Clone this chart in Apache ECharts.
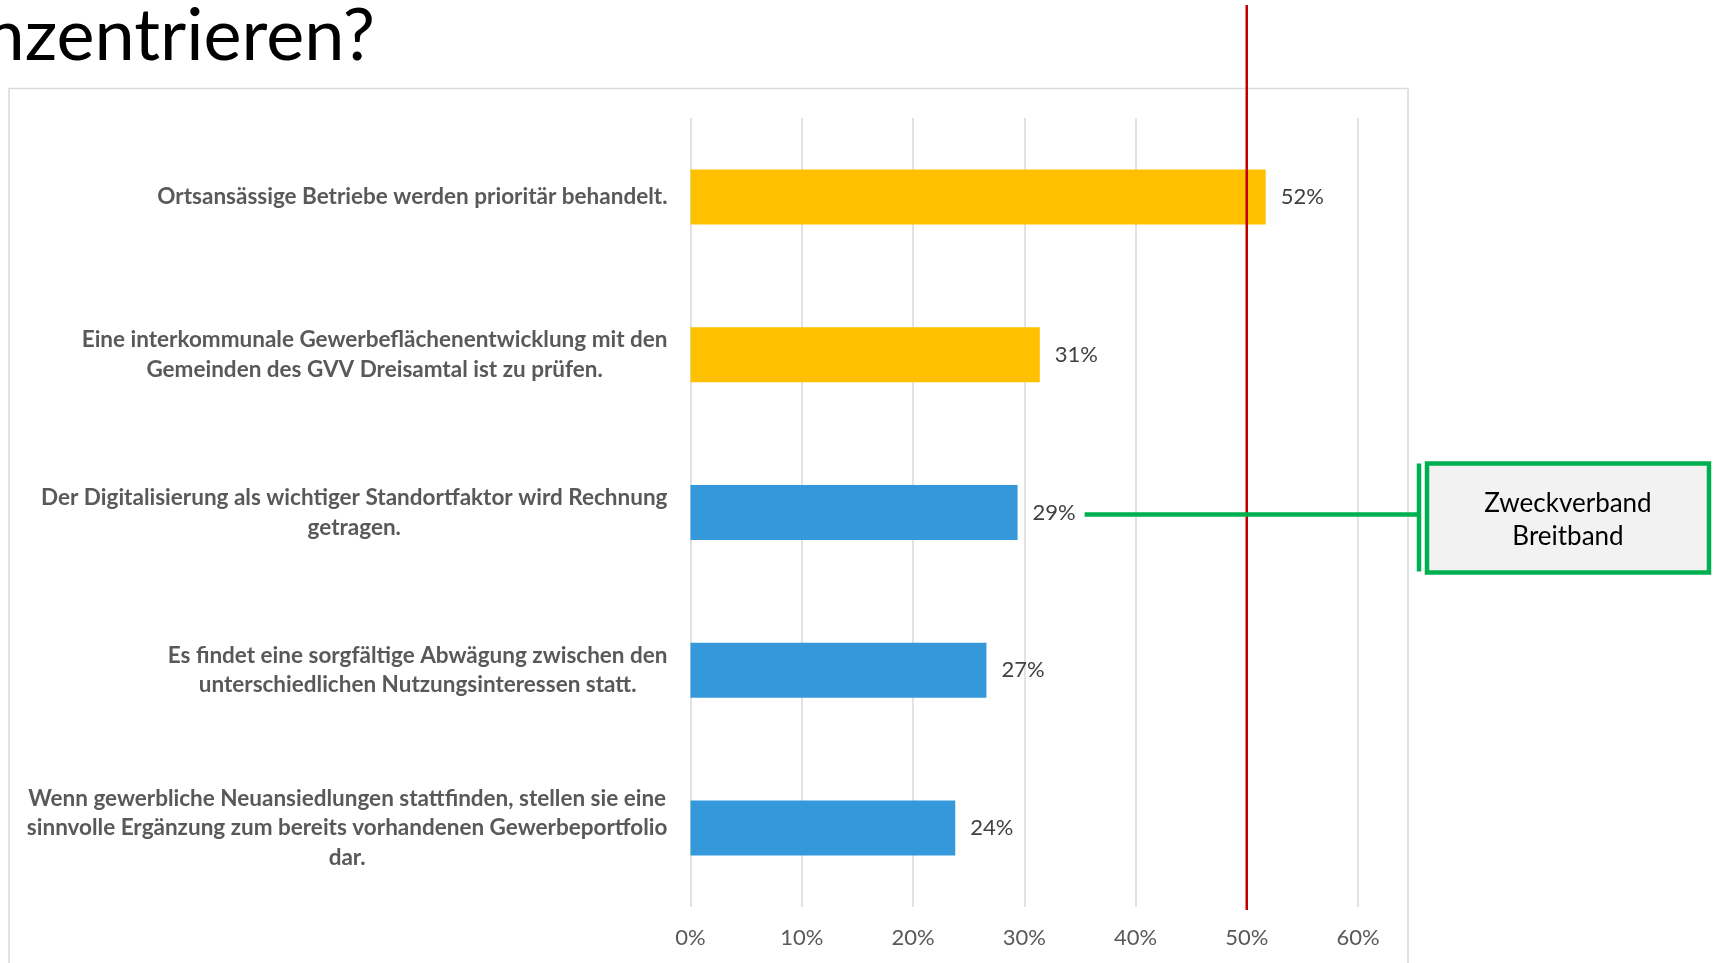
<!DOCTYPE html>
<html><head><meta charset="utf-8">
<script src="https://cdn.jsdelivr.net/npm/echarts@6/dist/echarts.min.js"></script>
<style>html,body{margin:0;padding:0;background:#fff;overflow:hidden}#c{width:1713px;height:963px}</style>
</head><body><div id="c"></div>
<script>
// ---- data ----
const titleTail = 'nzentrieren?';
const categories = [
  'Ortsansässige Betriebe werden prioritär behandelt.',
  'Eine interkommunale Gewerbeflächenentwicklung mit den\nGemeinden des GVV Dreisamtal ist zu prüfen.',
  'Der Digitalisierung als wichtiger Standortfaktor wird Rechnung\ngetragen.',
  'Es findet eine sorgfältige Abwägung zwischen den\nunterschiedlichen Nutzungsinteressen statt.',
  'Wenn gewerbliche Neuansiedlungen stattfinden, stellen sie eine\nsinnvolle Ergänzung zum bereits vorhandenen Gewerbeportfolio\ndar.'
];
const shares = [0.517, 0.314, 0.294, 0.266, 0.238];
const highlighted = [true, true, false, false, false];
const referenceShare = 0.5;
const annotationIndex = 2;
const annotationLines = ['Zweckverband', 'Breitband'];

// ---- chart ----
const FONT = 'Lato, "Open Sans", sans-serif';
const chart = echarts.init(document.getElementById('c'), null, {renderer: 'canvas'});
const pct = v => Math.round(v * 100) + '%';

chart.setOption({
  animation: false,
  backgroundColor: '#ffffff',
  grid: {left: 690.5, right: 355, top: 118, bottom: 56, containLabel: false},
  xAxis: {
    type: 'value', min: 0, max: 0.6, interval: 0.1,
    axisLine: {show: false}, axisTick: {show: false},
    splitLine: {show: true, lineStyle: {color: '#d9d9d9', width: 1.5}},
    axisLabel: {formatter: pct, fontSize: 22, color: '#595959', margin: 20, fontFamily: FONT}
  },
  yAxis: {
    type: 'category', data: categories, inverse: true,
    axisLine: {show: false}, axisTick: {show: false}, splitLine: {show: false},
    axisLabel: {
      margin: 23, align: 'right',
      formatter: v => v.split('\n').map(l => '{c|' + l + '}').join('\n'),
      rich: {c: {align: 'center', fontWeight: 'bold', fontSize: 22.5, lineHeight: 29.5, color: '#595959', fontFamily: FONT}}
    }
  },
  series: [{
    type: 'bar',
    data: shares.map((v, i) => ({value: v, itemStyle: {color: highlighted[i] ? '#FFC000' : '#3598DB'}})),
    barWidth: 55,
    label: {show: true, position: 'right', distance: 15, formatter: p => pct(p.value), fontSize: 22, color: '#404040', fontFamily: FONT}
  }]
});

const refX = chart.convertToPixel({xAxisIndex: 0}, referenceShare);
const annY = chart.convertToPixel({yAxisIndex: 0}, categories[annotationIndex]) + 2;
const annStartX = chart.convertToPixel({xAxisIndex: 0}, shares[annotationIndex]) + 67;

chart.setOption({
  graphic: [
    {type: 'rect', z: -10, shape: {x: 9, y: 88.5, width: 1399, height: 900}, style: {fill: 'none', stroke: '#d9d9d9', lineWidth: 1.5}},
    {type: 'text', z: 10, style: {x: 375, y: 73, text: titleTail, textAlign: 'right', textVerticalAlign: 'bottom', fontSize: 72, fontWeight: 'normal', fill: '#000000', fontFamily: FONT}},
    {type: 'line', z: 20, shape: {x1: refX, y1: 5, x2: refX, y2: 910}, style: {stroke: '#C00000', lineWidth: 2.5}},
    {type: 'line', z: 30, shape: {x1: annStartX, y1: annY, x2: 1418, y2: annY}, style: {stroke: '#00B050', lineWidth: 4.5}},
    {type: 'line', z: 30, shape: {x1: 1419, y1: annY - 51, x2: 1419, y2: annY + 57}, style: {stroke: '#00B050', lineWidth: 4.5}},
    {type: 'rect', z: 30, shape: {x: 1427, y: annY - 51, width: 282, height: 109}, style: {fill: '#F2F2F2', stroke: '#00B050', lineWidth: 4.5}},
    {type: 'text', z: 31, style: {x: 1568, y: annY + 6, text: annotationLines.join('\n'), textAlign: 'center', textVerticalAlign: 'middle', fontSize: 26, lineHeight: 33, fill: '#000000', fontFamily: FONT}}
  ]
});
</script></body></html>
